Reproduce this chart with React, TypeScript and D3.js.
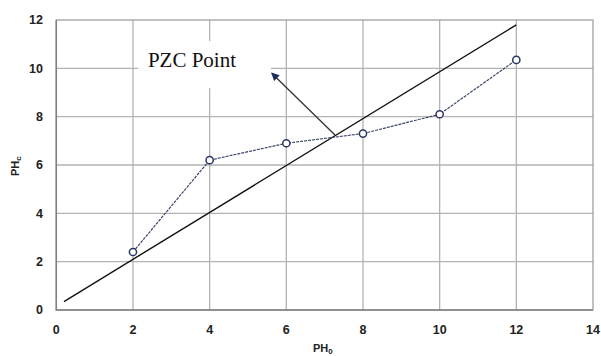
import { useEffect, useRef } from "react"
import * as d3 from "d3"

// measured series (pH0 vs pHc)
const phInitial = [2, 4, 6, 8, 10, 12]
const phFinal = [2.4, 6.2, 6.9, 7.3, 8.1, 10.35]

// reference line (pHc = pH0)
const refX = [0.2, 12]
const refY = [0.35, 11.8]

const xTicks = [0, 2, 4, 6, 8, 10, 12, 14]
const yTicks = [0, 2, 4, 6, 8, 10, 12]

const annotationText = "PZC Point"
const arrowFrom = { x: 7.27, y: 7.24 }
const arrowTo = { x: 5.62, y: 9.8 }

export default function App() {
  const svgRef = useRef<SVGSVGElement>(null)

  useEffect(() => {
    if (!svgRef.current) return
    const svg = d3.select(svgRef.current)
    svg.selectAll("*").remove()

    const x = d3.scaleLinear().domain([0, 14]).range([56.3, 593])
    const y = d3.scaleLinear().domain([0, 12]).range([310, 20])

    const tickFont = "'Liberation Sans', Arial, sans-serif"

    // Grid lines
    const grid = svg.append("g").attr("stroke", "#b3b3b3").attr("stroke-width", 1.3)
    grid
      .selectAll(".gx")
      .data(xTicks.slice(1, -1))
      .enter()
      .append("line")
      .attr("x1", (d) => x(d))
      .attr("x2", (d) => x(d))
      .attr("y1", y(0))
      .attr("y2", y(12))
    grid
      .selectAll(".gy")
      .data(yTicks.slice(1, -1))
      .enter()
      .append("line")
      .attr("x1", x(0))
      .attr("x2", x(14))
      .attr("y1", (d) => y(d))
      .attr("y2", (d) => y(d))

    // Frame
    svg
      .append("rect")
      .attr("x", x(0))
      .attr("y", y(12))
      .attr("width", x(14) - x(0))
      .attr("height", y(0) - y(12))
      .attr("fill", "none")
      .attr("stroke", "#a0a0a0")
      .attr("stroke-width", 1.3)
    svg
      .append("path")
      .attr("d", `M${x(0)},${y(12)}V${y(0)}H${x(14)}`)
      .attr("fill", "none")
      .attr("stroke", "#808080")
      .attr("stroke-width", 1.5)

    // Annotation box (white, hides grid)
    svg
      .append("rect")
      .attr("x", x(2.14))
      .attr("y", y(11.13))
      .attr("width", x(5.6) - x(2.14))
      .attr("height", y(9.18) - y(11.13))
      .attr("fill", "white")
    svg
      .append("text")
      .attr("x", x(2.39))
      .attr("y", y(10.05))
      .attr("font-family", "'Liberation Serif', 'Times New Roman', serif")
      .attr("font-size", 21)
      .attr("fill", "#111")
      .text(annotationText)

    // Axis tick labels
    svg
      .append("g")
      .selectAll("text")
      .data(yTicks)
      .enter()
      .append("text")
      .attr("x", 43)
      .attr("y", (d) => y(d))
      .attr("dy", "0.35em")
      .attr("text-anchor", "end")
      .attr("font-family", tickFont)
      .attr("font-weight", "bold")
      .attr("font-size", 12.5)
      .attr("fill", "#222")
      .text((d) => d)
    svg
      .append("g")
      .selectAll("text")
      .data(xTicks)
      .enter()
      .append("text")
      .attr("x", (d) => x(d))
      .attr("y", 333.5)
      .attr("text-anchor", "middle")
      .attr("font-family", tickFont)
      .attr("font-weight", "bold")
      .attr("font-size", 12.5)
      .attr("fill", "#222")
      .text((d) => d)

    // Axis titles
    const xt = svg
      .append("text")
      .attr("x", 313)
      .attr("y", 352)
      .attr("font-family", tickFont)
      .attr("font-weight", "bold")
      .attr("font-size", 11)
      .attr("fill", "#222")
    xt.append("tspan").text("PH")
    xt.append("tspan").attr("font-size", 8).attr("dy", 2).text("0")

    const yt = svg
      .append("text")
      .attr("transform", "translate(19,176) rotate(-90)")
      .attr("font-family", tickFont)
      .attr("font-weight", "bold")
      .attr("font-size", 11)
      .attr("fill", "#222")
    yt.append("tspan").text("PH")
    yt.append("tspan").attr("font-size", 8).attr("dy", 2).text("c")

    // Reference line
    const refData = refX.map((v, i) => ({ x: v, y: refY[i] }))
    const line = d3
      .line<{ x: number; y: number }>()
      .x((d) => x(d.x))
      .y((d) => y(d.y))
    svg
      .append("path")
      .datum(refData)
      .attr("d", line)
      .attr("fill", "none")
      .attr("stroke", "#111")
      .attr("stroke-width", 1.4)

    // Measured series
    const data = phInitial.map((v, i) => ({ x: v, y: phFinal[i] }))
    svg
      .append("path")
      .datum(data)
      .attr("d", line)
      .attr("fill", "none")
      .attr("stroke", "#3b4668")
      .attr("stroke-width", 1.2)
      .attr("stroke-dasharray", "3,1")
    svg
      .append("g")
      .selectAll("circle")
      .data(data)
      .enter()
      .append("circle")
      .attr("cx", (d) => x(d.x))
      .attr("cy", (d) => y(d.y))
      .attr("r", 3.6)
      .attr("fill", "white")
      .attr("stroke", "#2a3563")
      .attr("stroke-width", 1.5)

    // Arrow
    svg
      .append("defs")
      .append("marker")
      .attr("id", "arrowhead")
      .attr("viewBox", "0 0 10 10")
      .attr("refX", 9)
      .attr("refY", 5)
      .attr("markerWidth", 10)
      .attr("markerHeight", 8)
      .attr("markerUnits", "userSpaceOnUse")
      .attr("orient", "auto")
      .append("path")
      .attr("d", "M0,0L10,5L0,10z")
      .attr("fill", "#1d2a5c")
    svg
      .append("line")
      .attr("x1", x(arrowFrom.x))
      .attr("y1", y(arrowFrom.y))
      .attr("x2", x(arrowTo.x))
      .attr("y2", y(arrowTo.y))
      .attr("stroke", "#333")
      .attr("stroke-width", 1.3)
      .attr("marker-end", "url(#arrowhead)")
  }, [])

  return (
    <svg
      ref={svgRef}
      width={601}
      height={356}
      style={{ position: "absolute", left: 0, top: 0, background: "white" }}
    />
  )
}
